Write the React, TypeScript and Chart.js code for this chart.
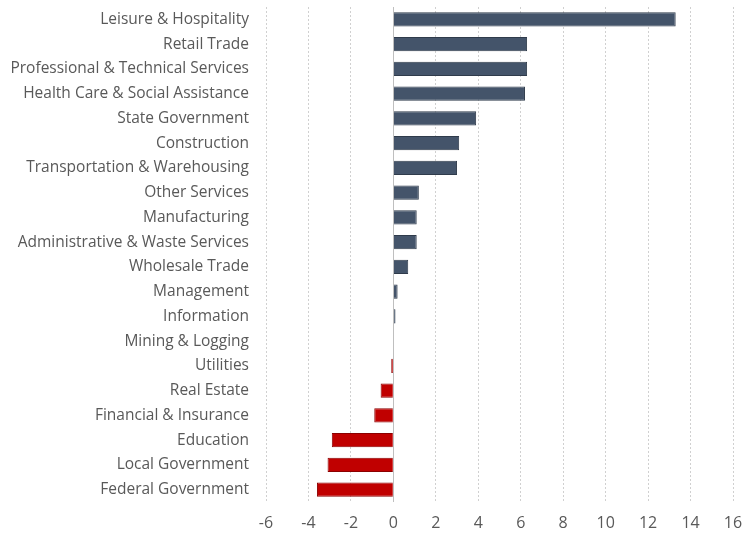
import React, { useEffect, useRef } from "react";
import { Chart, registerables } from "chart.js";

Chart.register(...registerables);

const categories = [
  "Leisure & Hospitality",
  "Retail Trade",
  "Professional & Technical Services",
  "Health Care & Social Assistance",
  "State Government",
  "Construction",
  "Transportation & Warehousing",
  "Other Services",
  "Manufacturing",
  "Administrative & Waste Services",
  "Wholesale Trade",
  "Management",
  "Information",
  "Mining & Logging",
  "Utilities",
  "Real Estate",
  "Financial & Insurance",
  "Education",
  "Local Government",
  "Federal Government",
];

const values = [
  13.3, 6.3, 6.3, 6.2, 3.9, 3.1, 3.0, 1.2, 1.1, 1.1, 0.7, 0.2, 0.1, 0.0, -0.1, -0.6, -0.9, -2.9, -3.1, -3.6,
];

const xMin = -6;
const xMax = 16;
const xStep = 2;

const POS_FILL = "#44546A";
const POS_BORDER = "#2F3B4B";
const NEG_FILL = "#C00000";
const NEG_BORDER = "#8B0000";

const zeroLinePlugin = {
  id: "zeroLine",
  afterDatasetsDraw(chart: any) {
    const x = chart.scales.x.getPixelForValue(0);
    const { top, bottom } = chart.chartArea;
    const ctx = chart.ctx;
    ctx.save();
    ctx.strokeStyle = "#BFBFBF";
    ctx.lineWidth = 1;
    ctx.beginPath();
    ctx.moveTo(Math.round(x) + 0.5, top);
    ctx.lineTo(Math.round(x) + 0.5, bottom);
    ctx.stroke();
    ctx.restore();
  },
};

export default function App() {
  const ref = useRef<HTMLCanvasElement | null>(null);
  useEffect(() => {
    if (!ref.current) return;
    const chart = new Chart(ref.current, {
      type: "bar",
      data: {
        labels: categories,
        datasets: [
          {
            data: values,
            backgroundColor: values.map((v) => (v < 0 ? NEG_FILL : POS_FILL)),
            borderColor: values.map((v) => (v < 0 ? NEG_BORDER : POS_BORDER)),
            borderWidth: 1,
            barPercentage: 0.57,
            categoryPercentage: 1,
          },
        ],
      },
      options: {
        indexAxis: "y",
        animation: false,
        responsive: false,
        maintainAspectRatio: false,
        layout: { padding: { top: 7, right: 22, bottom: 1, left: 0 } },
        plugins: { legend: { display: false }, tooltip: { enabled: false } },
        scales: {
          x: {
            min: xMin,
            max: xMax,
            ticks: {
              stepSize: xStep,
              color: "#595959",
              font: { family: "Open Sans", size: 16 },
              padding: 12,
            },
            grid: {
              color: "#D0D0D0",
              lineWidth: 1,
              drawTicks: false,
            },
            border: { display: false, dash: [2, 2] },
            afterFit: (scale: any) => {
              scale.height = 32;
            },
          },
          y: {
            ticks: {
              color: "#595959",
              font: { family: "Open Sans", size: 15.5 },
              padding: 17,
              autoSkip: false,
            },
            grid: { display: false, drawTicks: false },
            border: { display: false },
            afterFit: (scale: any) => {
              scale.width = 266;
              scale.paddingTop = 0;
              scale.paddingBottom = 0;
            },
          },
        },
      },
      plugins: [zeroLinePlugin],
    });
    return () => chart.destroy();
  }, []);
  return (
    <div style={{ position: "absolute", left: 0, top: 0, width: 755, height: 535, background: "#fff" }}>
      <canvas ref={ref} width={755} height={535} style={{ width: 755, height: 535 }} />
    </div>
  );
}
